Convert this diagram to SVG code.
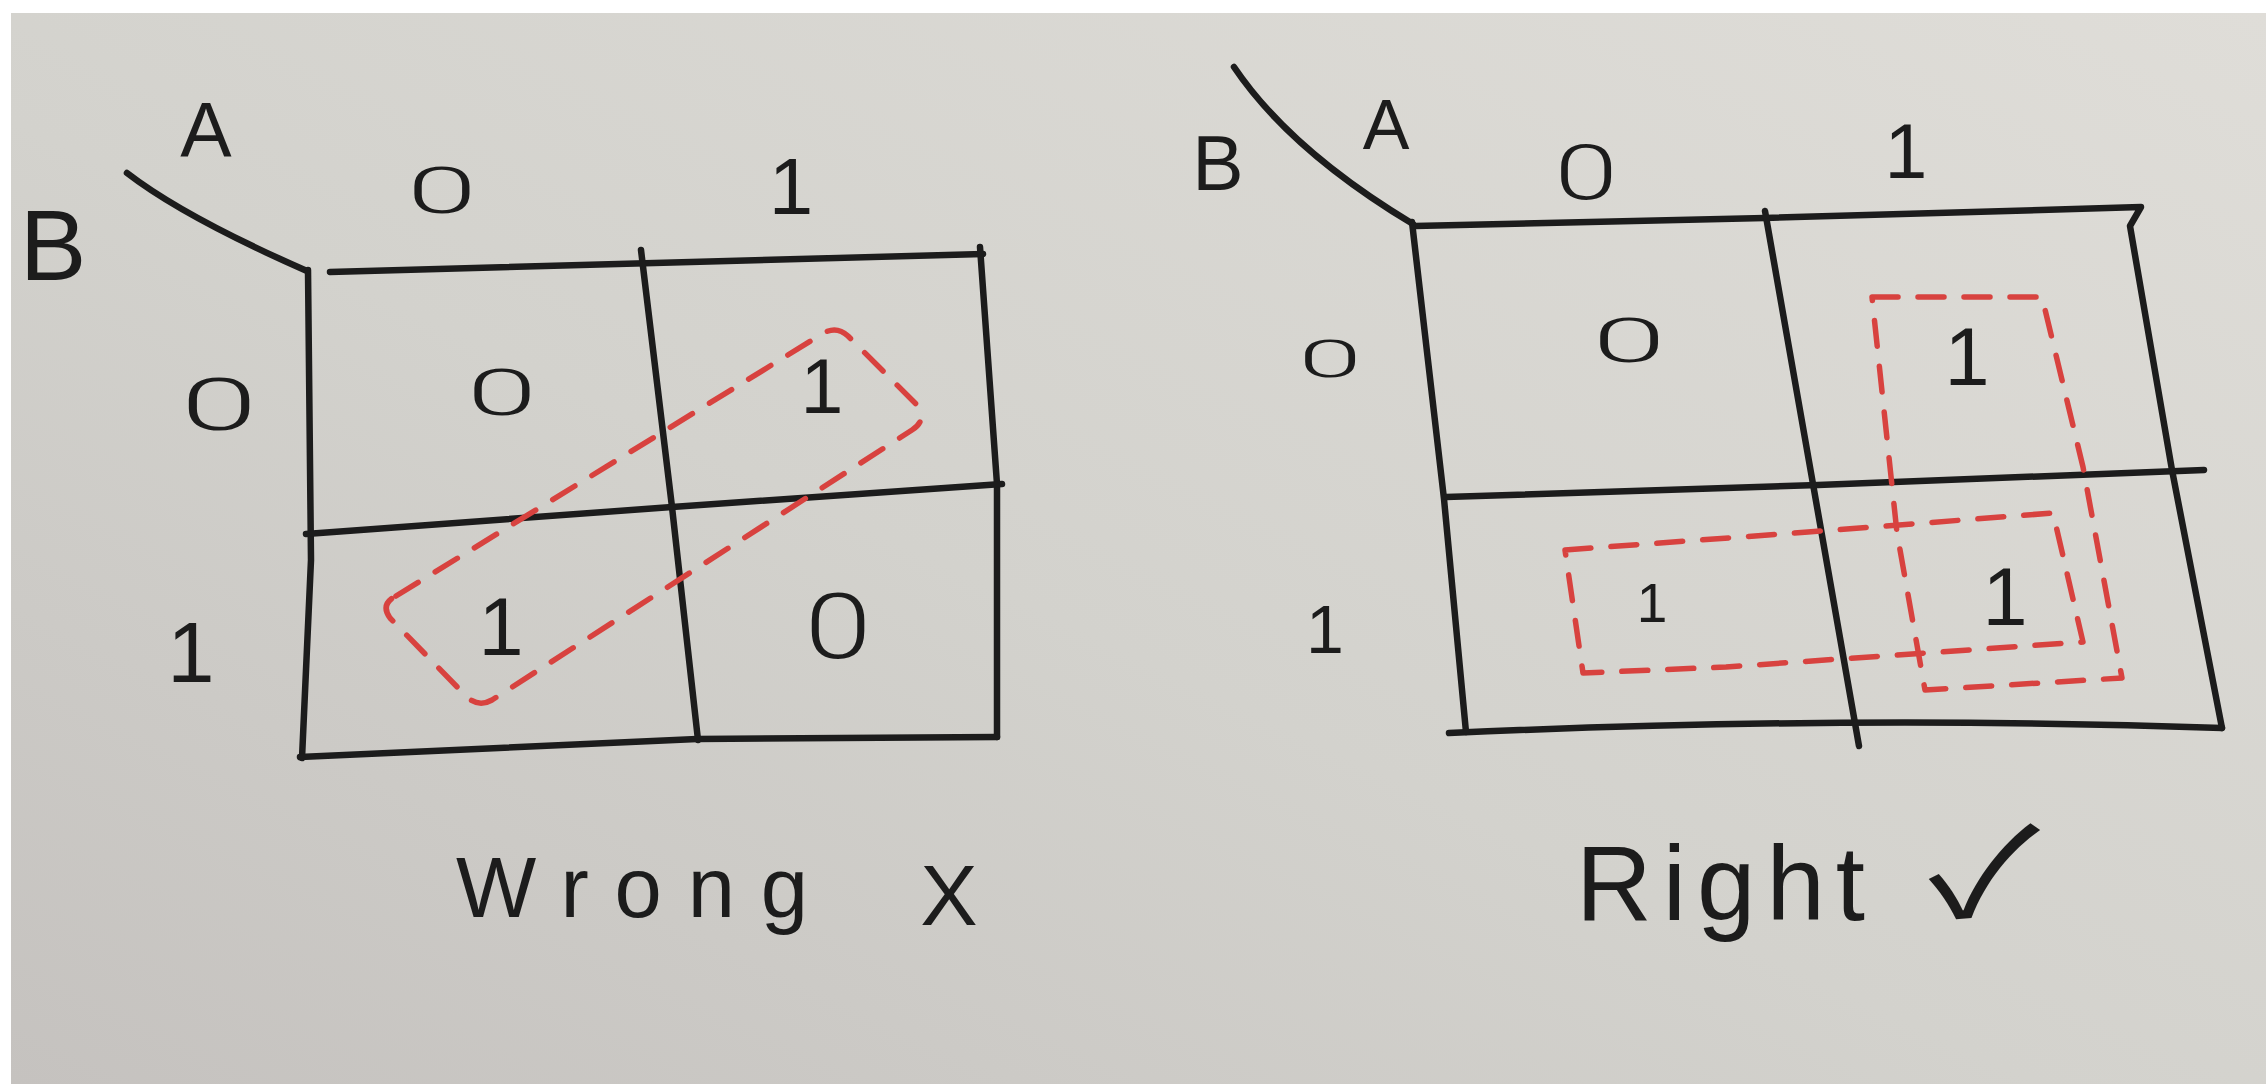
<svg xmlns="http://www.w3.org/2000/svg" width="2266" height="1084" viewBox="0 0 2266 1084">
  <defs>
    <linearGradient id="paper" x1="0" y1="1" x2="1" y2="0">
      <stop offset="0" stop-color="#c5c2bf"/>
      <stop offset="0.45" stop-color="#d3d2cd"/>
      <stop offset="1" stop-color="#dfddd8"/>
    </linearGradient>
    <style>
      .ink { fill: none; stroke: #1c1c1c; stroke-width: 6.5; stroke-linecap: round; stroke-linejoin: round; }
      .red { fill: none; stroke: #d8423f; stroke-width: 5.5; stroke-dasharray: 26 20; stroke-linecap: round; stroke-linejoin: round; }
      .t { font-family: "Liberation Sans", Arial, sans-serif; fill: #1c1c1c; text-anchor: middle; }
      .z { font-family: Roboto, "Liberation Sans", sans-serif; font-weight: 300; font-size: 60px; }
      .cap { font-family: "Liberation Sans", Arial, sans-serif; fill: #1c1c1c; }
      .chk { font-family: "Noto Sans CJK JP", "DejaVu Sans", sans-serif; fill: #1c1c1c; text-anchor: middle; }
    </style>
  </defs>

  <rect width="2266" height="1084" fill="#ffffff"/>
  <rect x="11" y="13" width="2255" height="1071" fill="url(#paper)"/>

  <!-- Left K-map: Wrong -->
  <g id="kmap-wrong">
    <g id="wrong-grid">
      <path class="ink" d="M127,173 Q184,217 307,271"/>
      <path class="ink" d="M330,272 L983,254"/>
      <path class="ink" d="M308,270 L311,560 L302,758"/>
      <path class="ink" d="M641,250 L672,507 L698,740"/>
      <path class="ink" d="M980,247 L997,484 L997,737"/>
      <path class="ink" d="M306,534 L672,507 L1002,484"/>
      <path class="ink" d="M300,757 L697,739 L997,737"/>
    </g>
    <g id="wrong-headers">
      <text class="t" x="206" y="157" font-size="77">A</text>
      <text class="t" x="53" y="280" font-size="100">B</text>
      <text class="t z" transform="translate(442,213) scale(2.1,1.07)">0</text>
      <text class="t" x="791" y="214" font-size="80">1</text>
      <text class="t z" transform="translate(219,430) scale(2.3,1.21)">0</text>
      <text class="t" x="191" y="682" font-size="85">1</text>
    </g>
    <g id="wrong-cells">
      <text class="t z" transform="translate(502,415) scale(2.1,1.09)">0</text>
      <text class="t" x="822" y="413" font-size="77">1</text>
      <text class="t" x="501" y="655" font-size="81">1</text>
      <text class="t z" transform="translate(838,658) scale(2.0,1.51)">0</text>
    </g>
    <g id="wrong-group">
      <path class="red" d="M396,596 L822,334 Q836,325 848,336 L916,404 Q928,420 912,430 L492,700 Q478,708 466,696 L390,618 Q380,604 396,596 Z"/>
    </g>
  </g>

  <!-- Right K-map: Right -->
  <g id="kmap-right">
    <g id="right-grid">
      <path class="ink" d="M1234,67 Q1290,150 1413,224"/>
      <path class="ink" d="M1415,226 L1765,218 L2141,207 L2130,226 L2172,470 L2222,728"/>
      <path class="ink" d="M1412,222 L1444,499 L1466,732"/>
      <path class="ink" d="M1765,211 L1813,484 L1859,746"/>
      <path class="ink" d="M1446,497 L1818,485 L2204,470"/>
      <path class="ink" d="M1449,733 Q1850,715 2222,728"/>
    </g>
    <g id="right-headers">
      <text class="t" x="1386" y="149" font-size="70">A</text>
      <text class="t" x="1218" y="190" font-size="77">B</text>
      <text class="t z" transform="translate(1586,199) scale(1.9,1.26)">0</text>
      <text class="t" x="1906" y="178" font-size="77">1</text>
      <text class="t z" transform="translate(1330,377) scale(1.9,0.86)">0</text>
      <text class="t" x="1325" y="653" font-size="68">1</text>
    </g>
    <g id="right-cells">
      <text class="t z" transform="translate(1629,362) scale(2.2,1.02)">0</text>
      <text class="t" x="1967" y="385" font-size="81">1</text>
      <text class="t" x="1652" y="622" font-size="55">1</text>
      <text class="t" x="2005" y="625" font-size="81">1</text>
    </g>
    <g id="right-groups">
      <path class="red" d="M1872,297 L2042,297 L2083,467 L2122,678 L1925,690 L1897,533 Z"/>
      <path class="red" d="M1565,550 L1808,532 L2053,513 L2083,642 L1726,667 L1583,673 Z"/>
    </g>
  </g>

  <!-- Captions -->
  <g id="captions">
    <text class="cap" x="456" y="917" font-size="85" textLength="352" lengthAdjust="spacing">Wrong</text>
    <text class="t" x="949" y="925" font-size="86">X</text>
    <text class="cap" x="1576" y="920" font-size="105" textLength="289" lengthAdjust="spacing">Right</text>
    <text class="chk" transform="translate(1984,917) scale(1.35,1.02)" font-size="120">✓</text>
  </g>
</svg>
